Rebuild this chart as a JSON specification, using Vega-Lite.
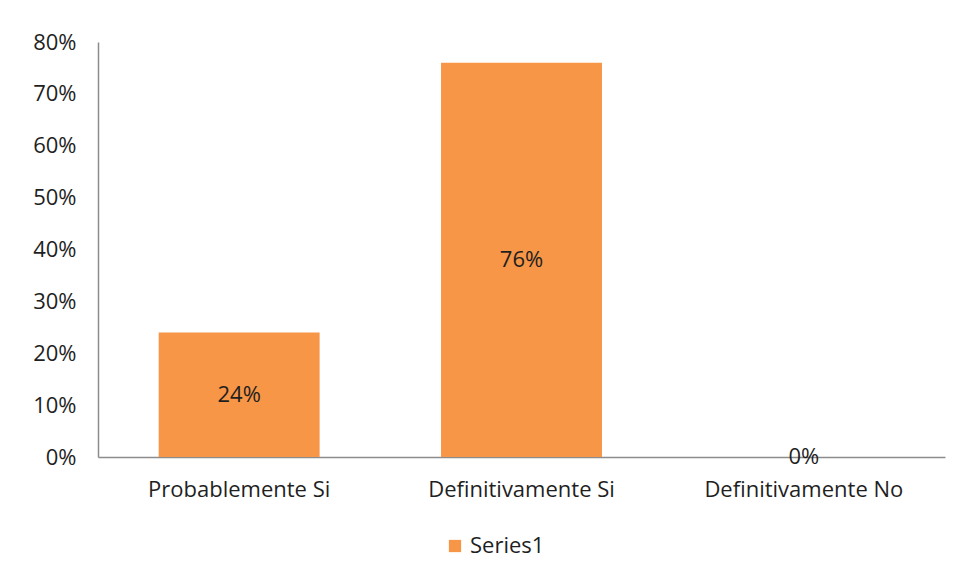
{
  "$schema": "https://vega.github.io/schema/vega-lite/v6.json",
  "width": 847,
  "height": 415,
  "autosize": {"type": "none"},
  "padding": {"left": 98, "top": 42, "right": 14, "bottom": 127},
  "background": "white",
  "config": {
    "view": {"stroke": null},
    "font": "Open Sans"
  },
  "data": {
    "values": [
      {"category": "Probablemente Si", "value": 0.24, "series": "Series1"},
      {"category": "Definitivamente Si", "value": 0.76, "series": "Series1"},
      {"category": "Definitivamente No", "value": 0.0, "series": "Series1"}
    ]
  },
  "transform": [{"calculate": "datum.value / 2", "as": "mid"}],
  "layer": [
    {
      "mark": {"type": "bar"},
      "encoding": {
        "x": {
          "field": "category",
          "type": "nominal",
          "sort": null,
          "scale": {"paddingInner": 0.43, "paddingOuter": 0.215},
          "axis": {
            "title": null,
            "labelAngle": 0,
            "labelFontSize": 22,
            "labelLimit": 1000,
            "labelOverlap": false,
            "labelColor": "#1f1f1f",
            "labelPadding": 22,
            "ticks": false,
            "domainColor": "#8c8c8c",
            "domainWidth": 1.5
          }
        },
        "y": {
          "field": "value",
          "type": "quantitative",
          "scale": {"domain": [0, 0.8]},
          "axis": {
            "title": null,
            "format": ".0%",
            "values": [0, 0.1, 0.2, 0.3, 0.4, 0.5, 0.6, 0.7, 0.8],
            "grid": false,
            "ticks": false,
            "labelFontSize": 22,
            "labelColor": "#1f1f1f",
            "labelPadding": 22,
            "domainColor": "#8c8c8c",
            "domainWidth": 1.5
          }
        },
        "color": {
          "field": "series",
          "type": "nominal",
          "scale": {"range": ["#F79646"]},
          "legend": {
            "title": null,
            "orient": "none",
            "legendX": 346,
            "legendY": 493,
            "symbolType": "square",
            "symbolSize": 150,
            "symbolStrokeWidth": 0,
            "labelFontSize": 22,
            "labelColor": "#1f1f1f"
          }
        }
      }
    },
    {
      "mark": {"type": "text", "fontSize": 22, "color": "#1f1f1f", "baseline": "middle", "align": "center"},
      "encoding": {
        "x": {"field": "category", "type": "nominal", "sort": null},
        "y": {"field": "mid", "type": "quantitative"},
        "text": {"field": "value", "type": "quantitative", "format": ".0%"}
      }
    }
  ]
}
